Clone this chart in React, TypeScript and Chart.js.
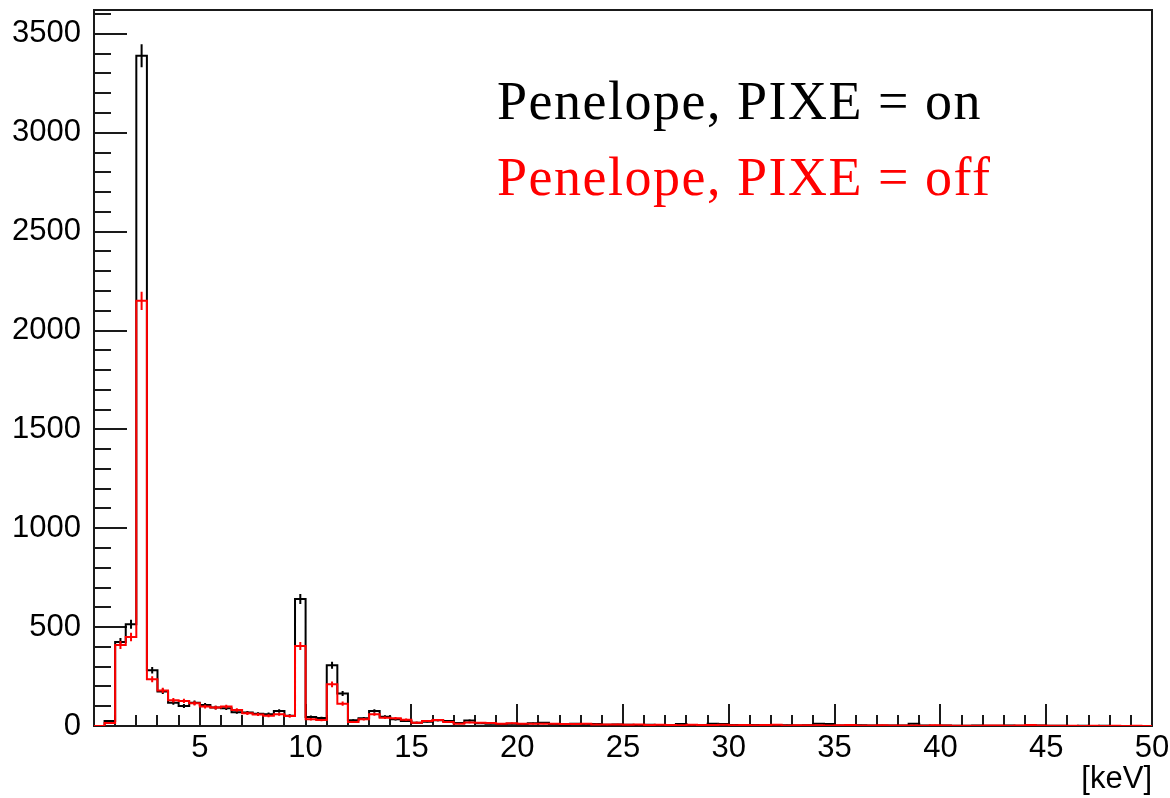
import React, { useEffect, useRef } from "react";
import { Chart, registerables } from "chart.js";

Chart.register(...registerables);

// ---- data (0.5 keV bins from 0 to 50 keV) ----
const BIN_WIDTH = 0.5;
const X_MIN = 0;
const X_MAX = 50;
const Y_MAX = 3621;

const pixeOn = [
  0, 25, 425, 515, 3390, 282, 175, 118, 101, 118,
  106, 93, 90, 70, 68, 62, 60, 76, 52, 642,
  46, 40, 307, 164, 29, 39, 76, 47, 34, 25,
  17, 22, 29, 25, 15, 28, 14, 12, 10, 12,
  10, 14, 16, 10, 8, 12, 9, 10, 6, 7,
  6, 5, 6, 5, 4, 10, 5, 4, 12, 10,
  5, 4, 5, 4, 3, 4, 3, 4, 12, 10,
  3, 2, 4, 3, 2, 3, 2, 12, 2, 1,
  2, 1, 1, 2, 1, 1, 2, 1, 4, 3,
  1, 1, 0, 1, 0, 1, 0, 0, 0, 0,
];

const pixeOff = [
  0, 15, 410, 450, 2150, 236, 180, 130, 127, 115,
  98, 93, 98, 81, 64, 58, 52, 59, 50, 405,
  34, 30, 211, 113, 20, 34, 59, 42, 39, 32,
  17, 25, 30, 20, 12, 18, 16, 15, 12, 14,
  12, 11, 12, 12, 10, 10, 11, 8, 7, 8,
  6, 7, 5, 6, 5, 4, 6, 5, 5, 6,
  4, 5, 4, 5, 6, 3, 4, 4, 4, 3,
  4, 5, 3, 3, 4, 3, 2, 2, 1, 4,
  3, 1, 1, 1, 3, 3, 1, 3, 5, 2,
  1, 1, 1, 0, 1, 0, 1, 0, 1, 0,
];

const xTickLabels = ["5", "10", "15", "20", "25", "30", "35", "40", "45", "50"];
const yTickLabels = ["0", "500", "1000", "1500", "2000", "2500", "3000", "3500"];
const legendLabels = ["Penelope, PIXE = on", "Penelope, PIXE = off"];
const legendColors = ["#000000", "#ff0000"];
const xAxisTitle = "[keV]";

// ---- helpers building library data from the arrays ----
function stepData(values: number[]) {
  const pts: { x: number; y: number }[] = [];
  for (let i = 0; i <= values.length; i++) {
    pts.push({ x: X_MIN + i * BIN_WIDTH, y: values[Math.min(i, values.length - 1)] });
  }
  return pts;
}

function errorData(values: number[]) {
  const pts: { x: number; y: number | null }[] = [];
  values.forEach((v, i) => {
    if (v <= 0) return;
    const c = X_MIN + (i + 0.5) * BIN_WIDTH;
    const e = Math.sqrt(v);
    pts.push({ x: c, y: v - e });
    pts.push({ x: c, y: v + e });
    pts.push({ x: c, y: null });
  });
  return pts;
}

const frameTicksPlugin = {
  id: "frameTicks",
  beforeDatasetsDraw(chart: any) {
    const { ctx, chartArea: a, scales } = chart;
    const x = scales.x;
    const y = scales.y;
    ctx.save();
    ctx.strokeStyle = "#1a1a1a";
    ctx.lineWidth = 2;
    ctx.strokeRect(a.left, a.top, a.right - a.left, a.bottom - a.top);
    ctx.beginPath();
    for (let v = X_MIN + 1; v < X_MAX; v += 1) {
      const px = Math.round(x.getPixelForValue(v));
      const len = v % 5 === 0 ? 22 : 11;
      ctx.moveTo(px, a.bottom);
      ctx.lineTo(px, a.bottom - len);
    }
    for (let v = 100; v <= Y_MAX; v += 100) {
      const py = Math.round(y.getPixelForValue(v));
      const len = v % 500 === 0 ? 33 : 17;
      ctx.moveTo(a.left, py);
      ctx.lineTo(a.left + len, py);
    }
    ctx.stroke();
    ctx.restore();
  },
  afterDraw(chart: any) {
    const { ctx } = chart;
    ctx.save();
    ctx.font = '54px "Liberation Serif", "DejaVu Serif", serif';
    ctx.textBaseline = "alphabetic";
    ctx.textAlign = "left";
    try {
      (ctx as any).letterSpacing = "1.5px";
    } catch (e) {}
    legendLabels.forEach((t, i) => {
      ctx.fillStyle = legendColors[i];
      ctx.fillText(t, 497, 119 + i * 76);
    });
    ctx.restore();
  },
};

const AXIS_FONT = { family: '"Liberation Sans", Arial, sans-serif', size: 31 };

export default function App() {
  const ref = useRef<HTMLCanvasElement | null>(null);

  useEffect(() => {
    if (!ref.current) return;
    const chart = new Chart(ref.current, {
      type: "line",
      data: {
        datasets: [
          {
            label: legendLabels[1],
            data: stepData(pixeOff),
            borderColor: "#ff0000",
            borderWidth: 2,
            pointRadius: 0,
            stepped: true,
            fill: false,
            order: 0,
          } as any,
          {
            label: legendLabels[1] + " err",
            data: errorData(pixeOff),
            borderColor: "#ff0000",
            borderWidth: 2,
            pointRadius: 0,
            spanGaps: false,
            fill: false,
            order: 1,
          } as any,
          {
            label: legendLabels[0],
            data: stepData(pixeOn),
            borderColor: "#000000",
            borderWidth: 2,
            pointRadius: 0,
            stepped: true,
            fill: false,
            order: 2,
          } as any,
          {
            label: legendLabels[0] + " err",
            data: errorData(pixeOn),
            borderColor: "#000000",
            borderWidth: 2,
            pointRadius: 0,
            spanGaps: false,
            fill: false,
            order: 3,
          } as any,
        ],
      },
      options: {
        responsive: false,
        animation: false,
        events: [],
        layout: { padding: { left: 0, top: 10, right: 18, bottom: 0 } },
        plugins: {
          legend: { display: false },
          tooltip: { enabled: false },
          title: { display: false },
        },
        scales: {
          x: {
            type: "linear",
            min: X_MIN,
            max: X_MAX,
            grid: { display: false, drawTicks: false },
            border: { display: false },
            afterBuildTicks: (s: any) => {
              s.ticks = xTickLabels.map((t) => ({ value: Number(t) }));
            },
            ticks: {
              autoSkip: false,
              maxRotation: 0,
              padding: 4,
              color: "#000",
              font: AXIS_FONT,
              callback: (v: any) => String(Math.round(Number(v))),
            },
            title: {
              display: true,
              text: xAxisTitle,
              align: "end",
              color: "#000",
              padding: { top: 0, bottom: 0 },
              font: AXIS_FONT,
            },
            afterFit: (s: any) => {
              s.height = 72;
              s.paddingLeft = 0;
              s.paddingRight = 0;
            },
          },
          y: {
            type: "linear",
            min: 0,
            max: Y_MAX,
            grid: { display: false, drawTicks: false },
            border: { display: false },
            afterBuildTicks: (s: any) => {
              s.ticks = yTickLabels.map((t) => ({ value: Number(t) }));
            },
            ticks: {
              autoSkip: false,
              padding: 13,
              color: "#000",
              font: AXIS_FONT,
              callback: (v: any) => String(Math.round(Number(v))),
            },
            afterFit: (s: any) => {
              s.width = 94;
              s.paddingTop = 0;
              s.paddingBottom = 0;
            },
          },
        },
      } as any,
      plugins: [frameTicksPlugin],
    });
    return () => chart.destroy();
  }, []);

  return (
    <div style={{ position: "absolute", left: 0, top: 0, width: 1170, height: 798, background: "#fff" }}>
      <canvas ref={ref} width={1170} height={798} style={{ display: "block" }} />
    </div>
  );
}
